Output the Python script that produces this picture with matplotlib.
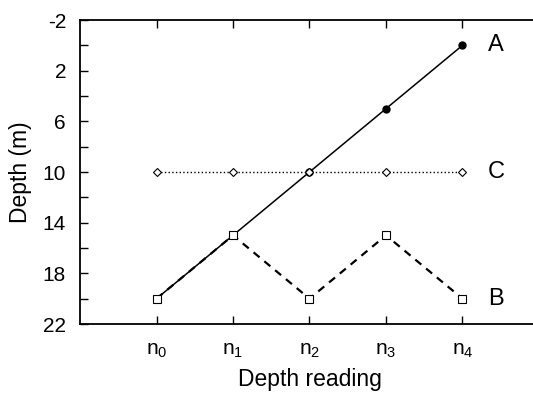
import matplotlib
matplotlib.use('Agg')
import matplotlib.pyplot as plt
from matplotlib.ticker import MultipleLocator
import numpy as np

plt.rcParams['font.family'] = ['Liberation Sans', 'DejaVu Sans']
plt.rcParams['axes.unicode_minus'] = False

readings = [1, 2, 3, 4, 5]
tick_labels = ['$\\mathregular{n_0}$', '$\\mathregular{n_1}$', '$\\mathregular{n_2}$',
               '$\\mathregular{n_3}$', '$\\mathregular{n_4}$']
depth_a = [20, 15, 10, 5, 0]
depth_b = [20, 15, 20, 15, 20]
depth_c = [10, 10, 10, 10, 10]

fig = plt.figure(figsize=(5.33, 3.96), dpi=100)
ax = fig.add_axes([80 / 533, 1 - 324 / 396, 459 / 533, 304 / 396])

ax.plot(readings, depth_a, '-', color='black', lw=1.1, marker='o', ms=5.0,
        mfc='black', mec='black', zorder=2)
ax.plot(readings, depth_c, ':', color='black', lw=1.0, marker='D', ms=3.8,
        mfc='white', mec='black', mew=0.8, zorder=3)
ax.plot(readings, depth_b, '--', color='black', lw=1.6, dashes=(3.5, 2.8), marker='s', ms=5.8,
        mfc='white', mec='black', mew=0.8, zorder=4)

for lab, y in zip(['A', 'C', 'B'], [depth_a[-1], depth_c[-1], depth_b[-1]]):
    ax.text(5.33, y, lab, fontsize=17, ha='left', va='center')

ax.set_xlim(0, 6)
ax.set_ylim(22, -2)
ax.set_xticks(readings)
ax.set_xticklabels(tick_labels)
ax.set_yticks(np.arange(-2, 23, 4))
ax.yaxis.set_minor_locator(MultipleLocator(2))

ax.spines['right'].set_visible(False)
for s in ['left', 'top', 'bottom']:
    ax.spines[s].set_linewidth(1.3)

ax.tick_params(axis='both', which='both', direction='in', length=6, width=1.0,
               labelsize=15, pad=10)
ax.tick_params(axis='x', top=True, pad=12)
ax.tick_params(axis='y', right=False)

ax.set_xlabel('Depth reading', fontsize=16.5, labelpad=6)
ax.set_ylabel('Depth (m)', fontsize=16.5, labelpad=8)

fig.savefig('out.png', dpi=100)
